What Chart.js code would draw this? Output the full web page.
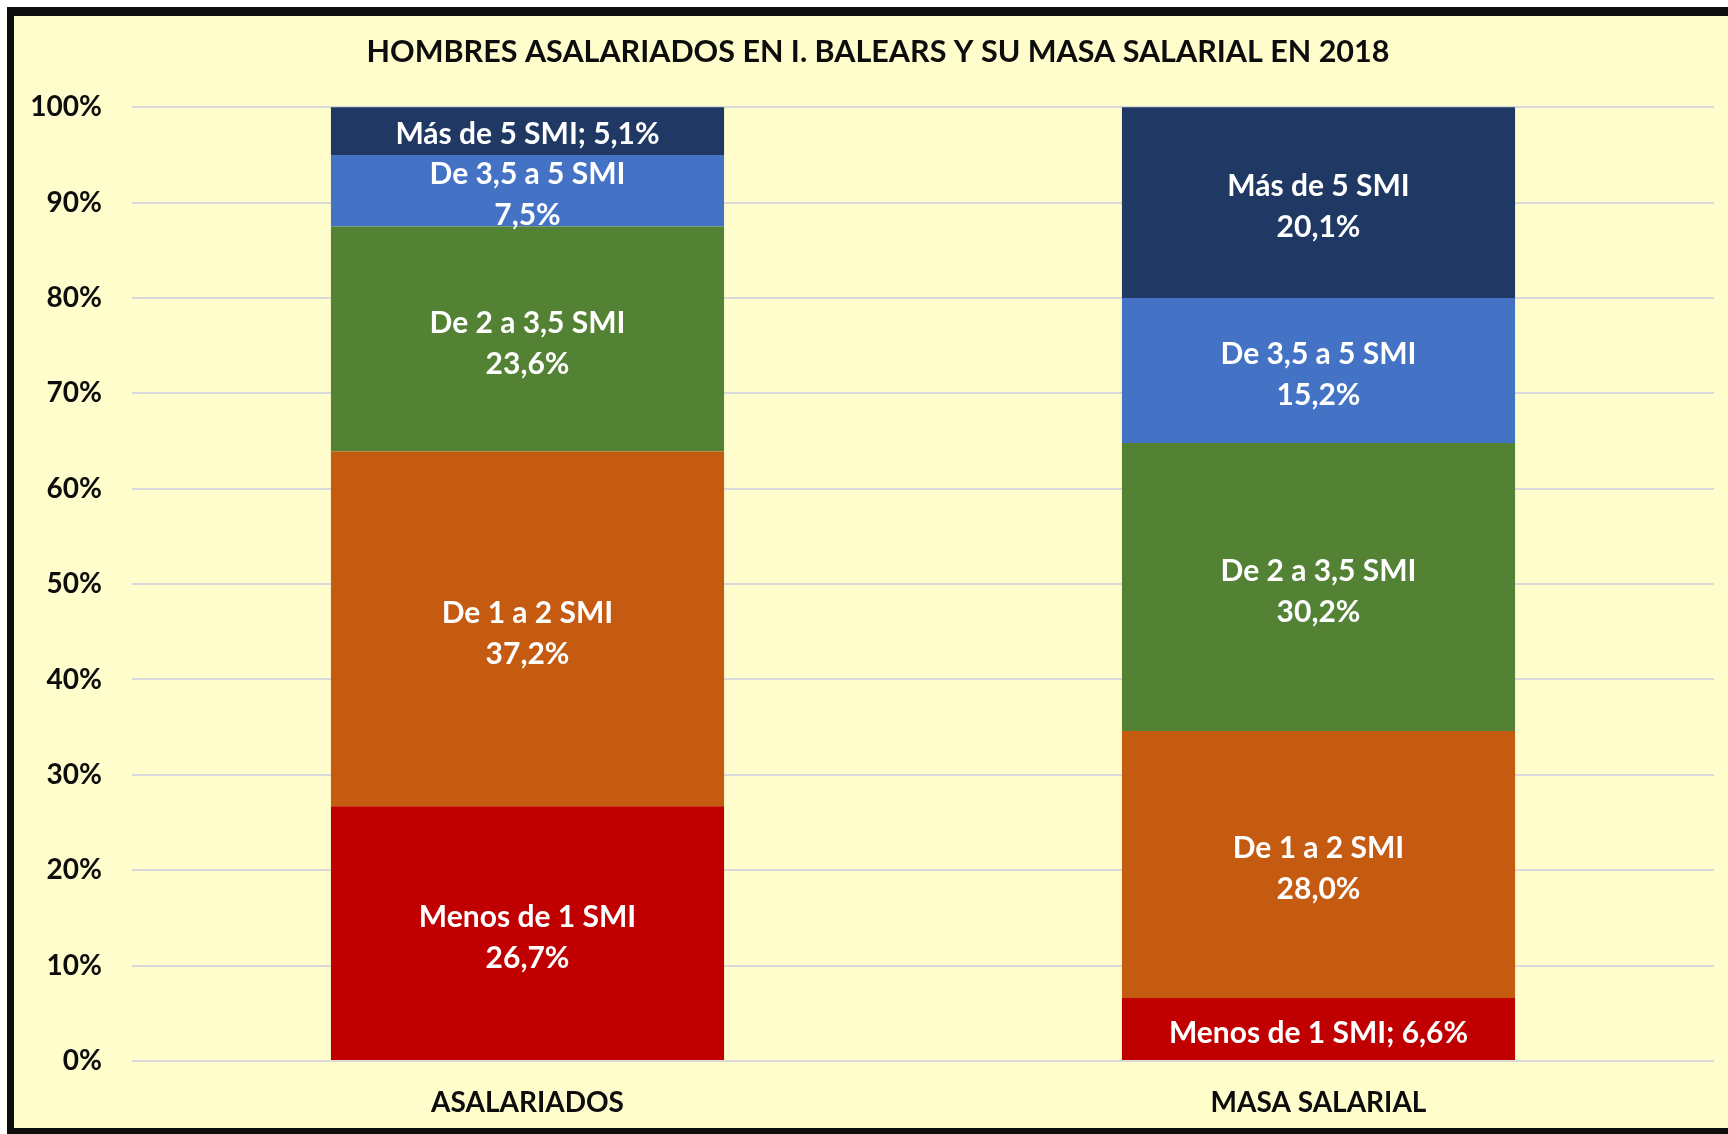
<!DOCTYPE html>
<html>
<head>
<meta charset="utf-8">
<script src="https://cdn.jsdelivr.net/npm/chart.js@4"></script>
<style>
  html, body { margin: 0; padding: 0; background: #ffffff; overflow: hidden; }
  #marco {
    position: absolute; left: 7px; top: 7px;
    width: 1760px; height: 1112px;
    background: #FFFDCC;
    border-top: 9px solid #0d0d0d; border-left: 7px solid #0d0d0d; border-bottom: 6px solid #0d0d0d;
  }
  #grafico { position: absolute; left: 0; top: 0; }
</style>
</head>
<body>
<div id="marco"><canvas id="grafico" width="1728" height="1112"></canvas></div>
<script>
// Datos
const categorias = ['ASALARIADOS', 'MASA SALARIAL'];
const tramos = ['Menos de 1 SMI', 'De 1 a 2 SMI', 'De 2 a 3,5 SMI', 'De 3,5 a 5 SMI', 'Más de 5 SMI'];
const menosDe1 = [26.7, 6.6];
const de1a2 = [37.2, 28.0];
const de2a35 = [23.6, 30.2];
const de35a5 = [7.5, 15.2];
const masDe5 = [5.1, 20.1];
const colores = ['#C00000', '#C55A11', '#548235', '#4472C4', '#203864'];
const marcasEje = [0, 10, 20, 30, 40, 50, 60, 70, 80, 90, 100];

const series = [menosDe1, de1a2, de2a35, de35a5, masDe5];

const fuente = "'Lato', 'Open Sans', sans-serif";

// formato español: 26,7%
const fmt = v => v.toFixed(1).replace('.', ',') + '%';

// Etiquetas dentro de cada segmento (no hay plugin datalabels)
const etiquetasPlugin = {
    id: 'etiquetas',
    afterDatasetsDraw(chart) {
        const ctx = chart.ctx;
        ctx.save();
        ctx.fillStyle = '#ffffff';
        ctx.font = 'bold 30px ' + fuente;
        ctx.textAlign = 'center';
        ctx.textBaseline = 'middle';
        chart.data.datasets.forEach((ds, i) => {
            chart.getDatasetMeta(i).data.forEach((bar, j) => {
                const v = ds.data[j];
                const y = (bar.y + bar.base) / 2 + 4;
                if (v < 7) {
                    ctx.fillText(ds.label + '; ' + fmt(v), bar.x, y);
                } else {
                    ctx.fillText(ds.label, bar.x, y - 20);
                    ctx.fillText(fmt(v), bar.x, y + 21);
                }
            });
        });
        ctx.restore();
    }
};

new Chart(document.getElementById('grafico').getContext('2d'), {
    type: 'bar',
    data: {
        labels: categorias,
        datasets: tramos.map((t, i) => ({
            label: t,
            data: series[i],
            backgroundColor: colores[i],
            borderWidth: 0,
            barPercentage: 0.497,
            categoryPercentage: 1
        }))
    },
    options: {
        responsive: false,
        animation: false,
        layout: { padding: 0 },
        plugins: {
            legend: { display: false },
            tooltip: { enabled: false },
            title: {
                display: true,
                text: 'HOMBRES ASALARIADOS EN I. BALEARS Y SU MASA SALARIAL EN 2018',
                color: '#0d0d0d',
                font: { family: fuente, size: 30.5, weight: 'bold', lineHeight: 1.2 },
                padding: { top: 18, bottom: 36.6 }
            }
        },
        scales: {
            x: {
                stacked: true,
                afterFit(scale) { scale.height = 67; },
                grid: { display: false, drawTicks: false },
                border: { display: false },
                ticks: {
                    color: '#0d0d0d',
                    padding: 25,
                    font: { family: fuente, size: 28, weight: 'bold', lineHeight: 1.2 }
                }
            },
            y: {
                stacked: true,
                min: 0,
                max: 100,
                afterFit(scale) { scale.width = 118; },
                afterBuildTicks(scale) { scale.ticks = marcasEje.map(v => ({ value: v })); },
                grid: { color: '#D9D9D9', lineWidth: 2, drawTicks: false },
                border: { display: false },
                ticks: {
                    color: '#0d0d0d',
                    padding: 30,
                    font: { family: fuente, size: 28, weight: 'bold' },
                    callback: v => v + '%'
                }
            },
            // eje vacío a la derecha: solo reserva el margen derecho
            margenDer: {
                position: 'right',
                min: 0,
                max: 100,
                grid: { display: false, drawTicks: false },
                border: { display: false },
                ticks: { display: false },
                afterFit(scale) { scale.width = 28; }
            }
        }
    },
    plugins: [etiquetasPlugin]
});
</script>
</body>
</html>
